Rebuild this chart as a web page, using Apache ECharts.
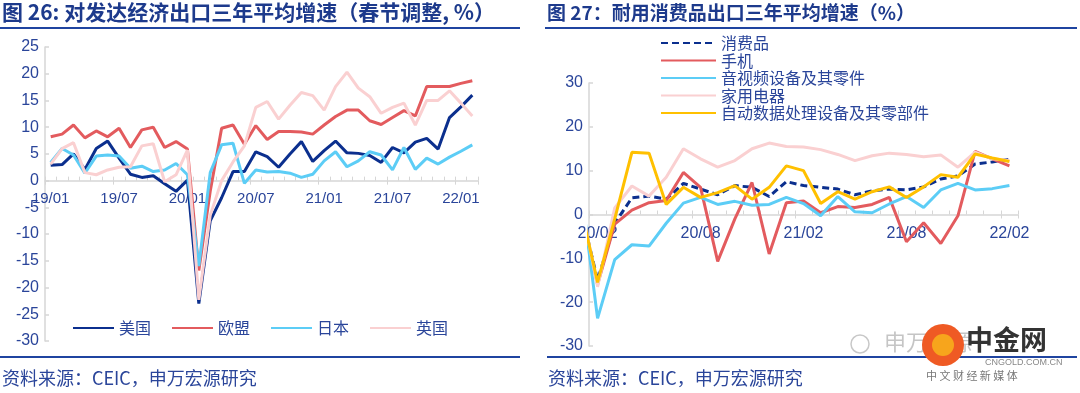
<!DOCTYPE html>
<html><head><meta charset="utf-8">
<script src="https://cdn.jsdelivr.net/npm/echarts@6/dist/echarts.min.js"></script>
<style>html,body{margin:0;padding:0;background:#fff}#c{width:1080px;height:393px}</style>
</head><body><div id="c"></div>
<script>
// ---- Left chart (图26) ----
const monthsL = ['19/01','19/02','19/03','19/04','19/05','19/06','19/07','19/08','19/09','19/10','19/11','19/12',
  '20/01','20/02','20/03','20/04','20/05','20/06','20/07','20/08','20/09','20/10','20/11','20/12',
  '21/01','21/02','21/03','21/04','21/05','21/06','21/07','21/08','21/09','21/10','21/11','21/12',
  '22/01','22/02'];
const usa = [2.9,3.0,5.0,2.1,6.0,7.4,4.2,1.2,0.6,0.9,-0.6,-2.0,0.1,-23.0,-7.5,-3.2,1.7,1.7,5.4,4.5,2.5,5.0,7.3,3.6,5.6,7.4,5.2,5.1,4.7,3.4,6.2,5.2,7.2,7.9,5.9,11.8,13.8,16.0];
const eu  = [8.2,8.7,10.4,8.0,9.3,8.2,9.8,6.2,9.5,10.0,6.2,7.3,5.9,-16.8,-2.0,9.8,10.4,6.8,10.3,7.7,9.2,9.2,9.1,8.7,10.4,12.0,13.2,13.2,11.2,10.5,11.8,13.1,12.1,17.6,17.6,17.6,18.2,18.7];
const jpn = [3.4,6.0,4.8,1.4,4.6,4.8,4.6,2.3,2.7,1.7,2.0,3.2,1.1,-16.0,1.5,6.7,7.0,-0.5,2.0,1.6,1.7,1.4,0.6,1.2,3.7,5.4,2.6,3.7,5.4,4.8,2.0,6.2,2.1,4.2,3.1,4.4,5.5,6.7];
const uk  = [3.1,6.0,7.1,1.5,1.1,2.0,2.5,2.6,6.5,6.9,-0.2,1.1,5.7,-22.3,-6.5,0.0,3.5,6.5,13.7,14.8,11.5,14.1,16.5,15.9,13.2,17.6,20.3,17.3,15.7,12.6,13.7,14.5,10.4,15.0,15.0,16.8,14.5,12.1];
const namesL = ['美国','欧盟','日本','英国'];
const yRangeL = [-30, 25, 5];

// ---- Right chart (图27) ---- (20/01 lies just left of the visible axis)
const monthsR = ['20/01','20/02','20/03','20/04','20/05','20/06','20/07','20/08','20/09','20/10','20/11','20/12',
  '21/01','21/02','21/03','21/04','21/05','21/06','21/07','21/08','21/09','21/10','21/11','21/12','22/01','22/02'];
const consumer  = [1.5,-15.0,-2.0,3.8,4.2,3.5,7.1,5.8,4.5,6.6,6.2,4.1,7.5,6.6,6.2,5.8,4.5,5.4,5.8,5.6,6.3,8.1,8.8,11.5,12.0,12.6];
const phone     = [1.0,-16.0,-2.2,1.0,2.7,3.2,9.6,6.2,-10.7,-1.0,7.3,-9.0,2.7,3.1,0.4,1.8,1.6,2.3,3.9,-6.2,-1.9,-6.6,-0.3,14.4,12.7,11.1];
const av        = [6.9,-23.7,-10.3,-6.9,-7.2,-2.0,2.6,3.9,2.3,3.0,2.1,2.3,3.9,2.5,-0.3,4.1,0.6,0.4,2.4,4.1,1.6,5.6,7.1,5.6,5.9,6.6];
const appliance = [3.0,-16.5,1.5,6.5,4.2,8.5,15.0,12.7,10.8,12.3,15.0,16.3,15.5,15.4,14.8,13.7,12.3,13.4,14.0,13.7,13.2,13.6,10.8,14.2,12.7,12.3];
const adp       = [1.9,-15.5,-1.0,14.2,14.0,2.3,6.2,3.9,5.0,6.6,3.5,6.2,11.1,10.0,2.5,5.2,3.5,5.2,6.3,3.9,6.3,9.1,8.5,13.8,12.9,12.1];
const namesR = ['消费品','手机','音视频设备及其零件','家用电器','自动数据处理设备及其零部件'];
const yRangeR = [-30, 30, 10];

const NAVY='#0b2f8e', RED='#e35b5e', CYAN='#5ccdf6', PINK='#fad0d1', YEL='#ffc000';
const TXT='#2a459a', AX='#d6d6d6';
const FONT='"Liberation Sans","Noto Sans CJK SC",Arial,sans-serif';
const CJK='"Noto Sans CJK SC","Liberation Sans",sans-serif';
const H = 393;

function line(name, data, color, xi, yi, extra){
  return Object.assign({type:'line', name, data, xAxisIndex:xi, yAxisIndex:yi, symbol:'none', showSymbol:false,
    clip:true, lineStyle:{color, width:3}, itemStyle:{color}, animation:false}, extra||{});
}
function yAx(gi,r,show){
  return {type:'value', gridIndex:gi, min:r[0], max:r[1], interval:r[2], show:show,
    axisLine:{show:true, lineStyle:{color:AX, width:1.5}},
    axisTick:{show:true, inside:true, length:4, lineStyle:{color:AX, width:1.5}},
    splitLine:{show:false},
    axisLabel:{color:TXT, fontSize:16, fontFamily:FONT, margin:6}};
}
// plot grids
const gL = {left:45, right:602, top:47, bottom:52};
const gR = {left:589, right:62, top:83, bottom:47};
// axis-strip grids whose bottom edge sits on the value 0 of the plot grid
function zeroGrid(g, r){
  const h = H - g.top - g.bottom;
  const y0 = g.top + h * (r[1] - 0) / (r[1] - r[0]);
  return {left:g.left, right:g.right, top:g.top, bottom:H - y0};
}
const zL = zeroGrid(gL, yRangeL), zR = zeroGrid(gR, yRangeR);

const chart = echarts.init(document.getElementById('c'), null, {renderer:'canvas'});
chart.setOption({
  animation:false,
  grid:[ gL, gR, zL, zR, Object.assign({},zL), Object.assign({},zR) ],
  xAxis:[
    {type:'category', gridIndex:0, data:monthsL, boundaryGap:true, show:false},
    {type:'category', gridIndex:1, data:monthsR, boundaryGap:true, min:1, show:false},
    {type:'category', gridIndex:2, data:monthsL, boundaryGap:true,
     axisLine:{onZero:false, lineStyle:{color:AX, width:1.5}},
     axisTick:{show:true, interval:0, inside:true, length:4, lineStyle:{color:AX}},
     axisLabel:{interval:5, color:TXT, fontSize:15, fontFamily:FONT, margin:11}},
    {type:'category', gridIndex:3, data:monthsR, boundaryGap:true, min:1,
     axisLine:{onZero:false, lineStyle:{color:AX, width:1.5}},
     axisTick:{show:true, interval:0, inside:true, length:4, lineStyle:{color:AX}},
     axisLabel:{interval:(i)=> (i-1)%6===0, color:TXT, fontSize:16, fontFamily:FONT, margin:11}},
    {type:'category', gridIndex:4, data:monthsL, boundaryGap:true,
     axisLine:{show:false, onZero:false}, axisLabel:{show:false},
     axisTick:{show:true, interval:5, inside:false, length:4, lineStyle:{color:AX}}},
    {type:'category', gridIndex:5, data:monthsR, boundaryGap:true, min:1,
     axisLine:{show:false, onZero:false}, axisLabel:{show:false},
     axisTick:{show:true, interval:(i)=> (i-1)%6===0, inside:false, length:4, lineStyle:{color:AX}}}
  ],
  yAxis:[ yAx(0,yRangeL,true), yAx(1,yRangeR,true),
          yAx(2,[0,25,5],false), yAx(3,[0,30,10],false), yAx(4,[0,25,5],false), yAx(5,[0,30,10],false) ],
  legend:[
    {data:namesL, left:67, top:315, itemWidth:41, itemHeight:12, itemGap:20, itemStyle:{opacity:0},
     textStyle:{color:TXT, fontSize:16, fontFamily:CJK}, selectedMode:false},
    {data:namesR, orient:'vertical', left:655, top:30, itemWidth:55, itemHeight:10, itemGap:1.5, itemStyle:{opacity:0},
     textStyle:{color:TXT, fontSize:16, fontFamily:CJK, lineHeight:16}, selectedMode:false}
  ],
  series:[
    line('美国', usa, NAVY, 0, 0),
    line('欧盟', eu, RED, 0, 0),
    line('日本', jpn, CYAN, 0, 0),
    line('英国', uk, PINK, 0, 0),
    line('消费品', consumer, NAVY, 1, 1, {lineStyle:{color:NAVY, width:3, type:[7,4]}}),
    line('手机', phone, RED, 1, 1),
    line('音视频设备及其零件', av, CYAN, 1, 1),
    line('家用电器', appliance, PINK, 1, 1),
    line('自动数据处理设备及其零部件', adp, YEL, 1, 1)
  ],
  graphic:[
    {type:'text', left:2, top:2, style:{text:'图 26: 对发达经济出口三年平均增速（春节调整, %）', fill:'#1d3a8c', font:'bold 21px '+CJK}},
    {type:'text', left:547, top:3, style:{text:'图 27：耐用消费品出口三年平均增速（%）', fill:'#1d3a8c', font:'bold 19px '+CJK}},
    {type:'rect', shape:{x:0, y:27, width:520, height:2}, style:{fill:'#1f44a0'}},
    {type:'rect', shape:{x:545, y:27, width:532, height:2}, style:{fill:'#1f44a0'}},
    {type:'rect', shape:{x:0, y:356, width:520, height:2}, style:{fill:'#1f44a0'}},
    {type:'rect', shape:{x:547, y:356, width:530, height:2}, style:{fill:'#1f44a0'}},
    {type:'text', left:2, top:369, style:{text:'资料来源：CEIC，申万宏源研究', fill:TXT, font:'18px '+CJK}},
    {type:'text', left:548, top:369, style:{text:'资料来源：CEIC，申万宏源研究', fill:TXT, font:'18px '+CJK}},
    // watermark
    {type:'circle', shape:{cx:860, cy:344, r:9}, style:{fill:'none', stroke:'#c8c8c8', lineWidth:1.5}},
    {type:'text', left:884, top:331, style:{text:'申万宏源', fill:'rgba(150,150,150,0.55)', font:'22px '+CJK}},
    {type:'circle', shape:{cx:943, cy:345, r:21}, style:{fill:'#ef5a24'}},
    {type:'circle', shape:{cx:943, cy:345, r:11}, style:{fill:'#f7a51c'}},
    {type:'text', left:966, top:326, style:{text:'中金网', fill:'#333333', font:'bold 27px '+CJK}},
    {type:'text', left:985, top:358, style:{text:'CNGOLD.COM.CN', fill:'#888', font:'9px '+FONT}},
    {type:'text', left:926, top:370, style:{text:'中 文 财 经 新 媒 体', fill:'#777', font:'11px '+CJK}}
  ]
});
</script></body></html>
